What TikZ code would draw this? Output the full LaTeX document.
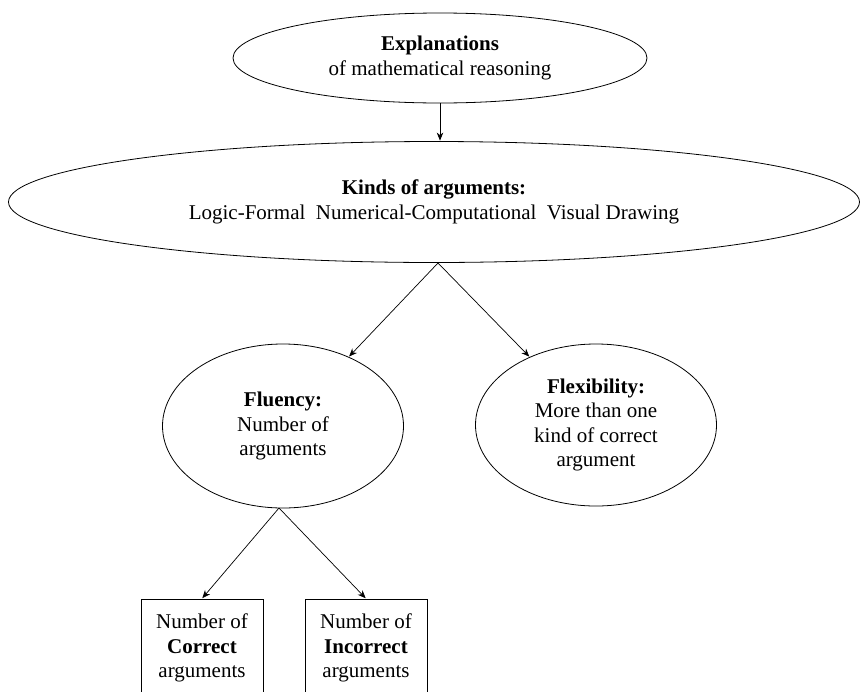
\documentclass[tikz,border=0pt]{standalone}
\usepackage{fontspec}
\setmainfont{Liberation Serif}
\newfontfamily\refserif{Liberation Serif}
\usetikzlibrary{shapes.geometric,arrows.meta}
\begin{document}
\begin{tikzpicture}[x=1pt,y=-1pt,
  txt/.style={align=center,font=\refserif\fontsize{21}{24.5}\selectfont,inner sep=0pt},
  ell/.style={draw,ellipse,line width=0.8pt,txt},
  boxnode/.style={draw,rectangle,line width=0.8pt,txt,minimum width=122pt,minimum height=98pt},
  arr/.style={line width=0.7pt,-{Stealth[length=8pt,width=6.5pt,inset=2.5pt]},shorten >=0.5pt}]
\useasboundingbox (0,0) rectangle (862,691);
\clip (0,0) rectangle (862,691);
\node[ell,minimum width=414pt,minimum height=90pt] (expl) at (440,58)
  {\textbf{Explanations}\\of mathematical reasoning};
\node[ell,minimum width=851pt,minimum height=121pt] (kinds) at (434,202)
  {\textbf{Kinds of arguments:}\\Logic-Formal\ \ Numerical-Computational\ \ Visual Drawing};
\node[ell,minimum width=241pt,minimum height=164pt] (flu) at (283,426)
  {\textbf{Fluency:}\\Number of\\arguments};
\node[ell,minimum width=241pt,minimum height=162pt] (flex) at (596,425)
  {\textbf{Flexibility:}\\More than one\\kind of correct\\argument};
\node[boxnode] (corr) at (202,648) {Number of\\\textbf{Correct}\\arguments};
\node[boxnode] (incorr) at (366,648) {Number of\\\textbf{Incorrect}\\arguments};
\draw[arr] (expl.south) -- (expl.south |- kinds.north);
\coordinate (ks) at (438,263);
\draw[arr] (ks) -- (flu);
\draw[arr] (ks) -- (flex);
\coordinate (fs) at (279,508);
\draw[arr] (fs) -- (corr.north);
\draw[arr] (fs) -- (incorr.north);
\end{tikzpicture}
\end{document}
